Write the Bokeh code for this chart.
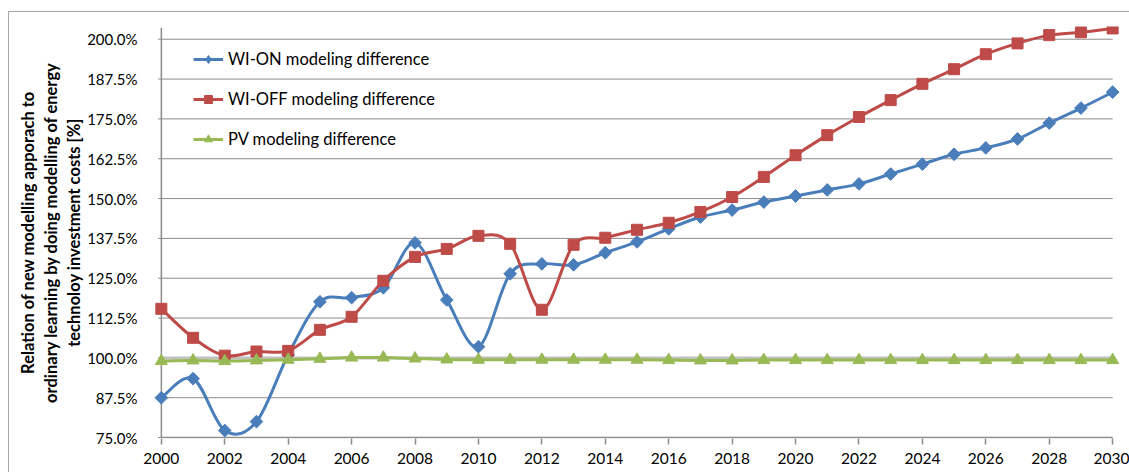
from bokeh.plotting import figure
from bokeh.models import Range1d, FixedTicker, PrintfTickFormatter, Legend, LegendItem
from bokeh.embed import file_html
from bokeh.resources import INLINE

years = list(range(2000, 2031))
wi_on = [87.5, 93.5, 77.2, 80.0, 101.0, 117.6, 118.9, 122.0, 136.1, 118.2,
         103.5, 126.4, 129.5, 129.2, 133.0, 136.4, 140.5, 144.2, 146.4, 148.9,
         150.8, 152.7, 154.6, 157.7, 160.8, 163.9, 165.9, 168.7, 173.7, 178.4, 183.4]
wi_off = [115.4, 106.3, 100.7, 102.0, 102.2, 108.8, 112.9, 124.2, 131.7, 134.2,
          138.3, 135.8, 115.1, 135.5, 137.7, 140.2, 142.4, 145.8, 150.5, 156.8,
          163.6, 169.9, 175.6, 180.9, 186.0, 190.6, 195.3, 198.7, 201.3, 202.2, 203.4]
pv = [99.0, 99.2, 99.0, 99.2, 99.4, 99.7, 100.1, 100.1, 99.8, 99.5,
      99.4, 99.4, 99.4, 99.4, 99.4, 99.4, 99.3, 99.2, 99.2, 99.3,
      99.3, 99.3, 99.3, 99.3, 99.3, 99.3, 99.3, 99.3, 99.3, 99.3, 99.3]
baseline = [100.0] * len(years)
y_ticks = [75.0, 87.5, 100.0, 112.5, 125.0, 137.5, 150.0, 162.5, 175.0, 187.5, 200.0]
x_ticks = list(range(2000, 2031, 2))
series_names = ["WI-ON modeling difference", "WI-OFF modeling difference", "PV modeling difference"]

FONT = "Lato"
GRID = "#8c8c8c"


def smooth(xs, ys):
    n = len(xs)
    d = dict(x0=[], y0=[], x1=[], y1=[], cx0=[], cy0=[], cx1=[], cy1=[])
    for i in range(n - 1):
        xp, yp = (xs[i - 1], ys[i - 1]) if i > 0 else (xs[i], ys[i])
        xn, yn = (xs[i + 2], ys[i + 2]) if i + 2 < n else (xs[i + 1], ys[i + 1])
        d["x0"].append(xs[i]); d["y0"].append(ys[i])
        d["x1"].append(xs[i + 1]); d["y1"].append(ys[i + 1])
        d["cx0"].append(xs[i] + (xs[i + 1] - xp) / 6.0)
        d["cy0"].append(ys[i] + (ys[i + 1] - yp) / 6.0)
        d["cx1"].append(xs[i + 1] - (xn - xs[i]) / 6.0)
        d["cy1"].append(ys[i + 1] - (yn - ys[i]) / 6.0)
    return d


p = figure(width=1121, height=461, output_backend="svg", toolbar_location=None,
           x_range=Range1d(1999.5, 2030.5), y_range=Range1d(74.7, 204.0),
           min_border_left=136, min_border_right=2, min_border_top=14, min_border_bottom=35)
p.margin = (11, 0, 0, 8)
p.styles = {"border-left": "1px solid #a6a6a6", "border-top": "1px solid #a6a6a6"}
p.outline_line_color = None
p.xgrid.visible = False
p.ygrid.visible = False

# axes
p.xaxis.ticker = FixedTicker(ticks=x_ticks)
p.xaxis.axis_line_color = None
p.xaxis.major_tick_line_color = GRID
p.xaxis.major_tick_line_width = 1.5
p.xaxis.major_tick_out = 6
p.xaxis.major_tick_in = 0
p.xaxis.minor_tick_line_color = None
p.xaxis.major_label_standoff = 8
p.xaxis.major_label_text_font = FONT
p.xaxis.major_label_text_font_size = "15.5px"
p.xaxis.major_label_text_color = "#000000"

p.yaxis.ticker = FixedTicker(ticks=y_ticks)
p.yaxis.formatter = PrintfTickFormatter(format="%.1f%%")
p.yaxis.axis_line_color = None
p.yaxis.major_tick_line_color = None
p.yaxis.minor_tick_line_color = None
p.yaxis.major_label_standoff = 2
p.yaxis.major_label_text_font = FONT
p.yaxis.major_label_text_font_size = "15px"
p.yaxis.major_label_text_color = "#000000"
p.yaxis.axis_label = ("Relation of new modelling apporach to\n"
                      "ordinary learning by doing modelling of energy\n"
                      "technoloy investment costs [%]")
p.yaxis.axis_label_text_font = FONT
p.yaxis.axis_label_text_font_style = "bold"
p.yaxis.axis_label_text_font_size = "16.5px"
p.yaxis.axis_label_text_line_height = 1.15
p.yaxis.axis_label_text_color = "#000000"
p.yaxis.axis_label_standoff = 0

# gridlines and axis lines
p.segment(x0=[1999.9] * len(y_ticks), y0=y_ticks, x1=[years[-1]] * len(y_ticks), y1=y_ticks,
          line_color=GRID, line_width=1)
p.segment(x0=[years[0]], y0=[y_ticks[0]], x1=[years[-1]], y1=[y_ticks[0]], line_color=GRID, line_width=1.5)
p.segment(x0=[years[0]], y0=[y_ticks[0]], x1=[years[0]], y1=[203.6], line_color=GRID, line_width=1.5)

# baseline
p.line(years, baseline, line_color="#c0c0c0", line_width=3)

styles = [
    (wi_on, "#4a7ebb", "square", 9, 0.785398, "diamond", 12),
    (wi_off, "#be4b48", "square", 11, 0.0, "square", 9),
    (pv, "#98b954", "triangle", 12, 0.0, "triangle", 10),
]
items = []
for (vals, col, mk, sz, ang, lmk, lsz), name in zip(styles, series_names):
    p.bezier(source=smooth(years, vals), x0="x0", y0="y0", x1="x1", y1="y1",
             cx0="cx0", cy0="cy0", cx1="cx1", cy1="cy1", line_color=col, line_width=3)
    p.scatter(years, vals, marker=mk, size=sz, angle=ang, fill_color=col, line_color=col)
    r_l = p.line(years[:1], vals[:1], line_color=col, line_width=3)
    r_m = p.scatter(years[:1], vals[:1], marker=lmk, size=lsz, fill_color=col, line_color=col,
                    visible=False)
    items.append(LegendItem(label=name, renderers=[r_l, r_m]))

frame_h = (204.0 - 74.7) * 3.192
legend = Legend(items=items, location=(48, frame_h - 124), margin=0, padding=0,
                spacing=20, glyph_width=30, glyph_height=20, label_height=20,
                label_standoff=5, border_line_color=None, background_fill_alpha=0,
                inactive_fill_alpha=0,
                label_text_font=FONT, label_text_font_size="16.5px", label_text_color="#000000")
p.add_layout(legend)

open("out.html", "w").write(file_html(p, INLINE))
